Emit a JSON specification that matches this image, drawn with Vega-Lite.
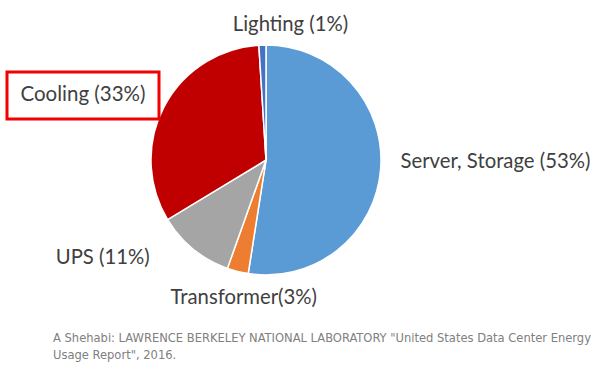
{
  "$schema": "https://vega.github.io/schema/vega-lite/v6.json",
  "autosize": {"type": "none"},
  "width": 532,
  "height": 320,
  "padding": {"left": 0, "top": 0, "right": 63, "bottom": 47},
  "background": "white",
  "title": {
    "text": ["A Shehabi: LAWRENCE BERKELEY NATIONAL LABORATORY \"United States Data Center Energy", "Usage  Report\", 2016."],
    "orient": "bottom",
    "anchor": "start",
    "dx": 53,
    "offset": 12,
    "font": "DejaVu Sans Condensed, Liberation Sans, sans-serif",
    "fontSize": 12.8,
    "fontWeight": "normal",
    "color": "#808080",
    "lineHeight": 17
  },
  "config": {"view": {"stroke": null}, "legend": {"strokeWidth": 3}},
  "data": {
    "values": [
      {"cat": "Server, Storage", "label": "Server, Storage (53%)", "value": 53, "rank": 1},
      {"cat": "Transformer", "label": "Transformer(3%)", "value": 3, "rank": 2},
      {"cat": "UPS", "label": "UPS (11%)", "value": 11, "rank": 3},
      {"cat": "Cooling", "label": "Cooling (33%)", "value": 33, "rank": 4},
      {"cat": "Lighting", "label": "Lighting (1%)", "value": 1, "rank": 5}
    ]
  },
  "encoding": {
    "theta": {"field": "value", "type": "quantitative", "stack": true},
    "order": {"field": "rank", "type": "quantitative"}
  },
  "layer": [
    {
      "mark": {"type": "arc", "outerRadius": 115, "stroke": "white", "strokeWidth": 1.5},
      "encoding": {
        "color": {
          "field": "cat",
          "type": "nominal",
          "scale": {
            "domain": ["Server, Storage", "Transformer", "UPS", "Cooling", "Lighting"],
            "range": ["#5b9bd5", "#ed7d31", "#a5a5a5", "#c00000", "#4472c4"]
          },
          "legend": {
            "orient": "none",
            "legendX": 7,
            "legendY": 72,
            "values": ["Cooling"],
            "title": null,
            "labelExpr": "'Cooling (33%)'",
            "labelFont": "Lato",
            "labelFontSize": 20.5,
            "labelColor": "#404040",
            "labelOffset": -20,
            "symbolSize": 0,
            "symbolOpacity": 0,
            "symbolStrokeWidth": 0,
            "padding": 13,
            "strokeColor": "#f00000",
            "labelLimit": 300,
            "encode": {"legend": {"enter": {"strokeWidth": {"value": 3}}, "update": {"strokeWidth": {"value": 3}}}}
          }
        }
      }
    },
    {
      "mark": {"type": "text", "radius": 135, "align": "left", "baseline": "middle", "dy": -8, "font": "Lato", "fontSize": 20.3, "color": "#404040"},
      "encoding": {"text": {"condition": {"test": "datum.cat === 'Server, Storage'", "field": "label"}, "value": ""}}
    },
    {
      "mark": {"type": "text", "radius": 135, "align": "left", "baseline": "middle", "dx": -29, "dy": 0, "font": "Lato", "fontSize": 20.3, "color": "#404040"},
      "encoding": {"text": {"condition": {"test": "datum.cat === 'Lighting'", "field": "label"}, "value": ""}}
    },
    {
      "mark": {"type": "text", "radius": 135, "align": "center", "baseline": "middle", "dx": 11, "dy": 7, "font": "Lato", "fontSize": 20.3, "color": "#404040"},
      "encoding": {"text": {"condition": {"test": "datum.cat === 'Transformer'", "field": "label"}, "value": ""}}
    },
    {
      "mark": {"type": "text", "radius": 135, "align": "right", "baseline": "middle", "dx": -31, "dy": -7, "font": "Lato", "fontSize": 20.3, "color": "#404040"},
      "encoding": {"text": {"condition": {"test": "datum.cat === 'UPS'", "field": "label"}, "value": ""}}
    }
  ]
}
